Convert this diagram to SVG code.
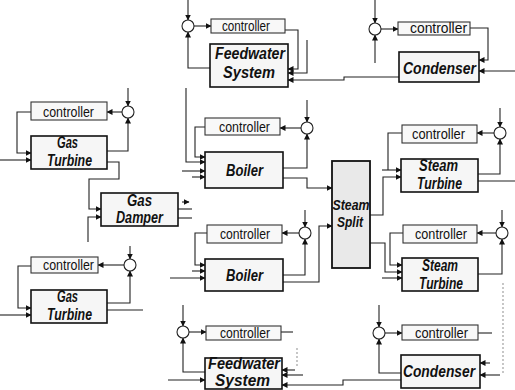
<svg xmlns="http://www.w3.org/2000/svg" width="515" height="390" viewBox="0 0 515 390">
<style>
.bg{fill:#fff}
.blk{fill:#f6f6f6;stroke:#111;stroke-width:1.6}
.split{fill:#e9e9e9;stroke:#111;stroke-width:1.8}
.ctl{fill:#f8f8f8;stroke:#333;stroke-width:1.1}
.sum{fill:#fff;stroke:#222;stroke-width:1.1}
.lbl{font-family:"Liberation Sans",Arial,sans-serif;font-weight:bold;font-style:italic;font-size:16px;fill:#111}
.sp{font-size:15px}
.ct{font-family:"Liberation Sans",Arial,sans-serif;font-size:15px;fill:#111}
.c path{fill:none;stroke:#222;stroke-width:1.1}
.c path.a{marker-end:url(#ah)}
.c path.f{stroke:#999;stroke-dasharray:2 2}
</style>
<defs>
<marker id="ah" markerUnits="userSpaceOnUse" markerWidth="6" markerHeight="6" refX="5.5" refY="3" orient="auto"><path d="M0,0 L6,3 L0,6 z" fill="#111"/></marker>
</defs>
<rect class="bg" width="515" height="390"/>

<g id="connectors" class="c">
<!-- Gas Turbine 1 -->
<path class="a" d="M128,88 V106"/>
<path class="a" d="M122,112 H107"/>
<path class="a" d="M31,112 H17 V153 H31"/>
<path class="a" d="M0,160 H31"/>
<path class="a" d="M107,151 H128 V118"/>
<path class="a" d="M107,162 H119 V179 H89 V209 H101"/>
<!-- Gas Turbine 2 -->
<path class="a" d="M130,246 V259"/>
<path class="a" d="M124,265 H98"/>
<path class="a" d="M31,266 H18 V308 H31"/>
<path class="a" d="M0,315 H31"/>
<path class="a" d="M107,303 H130 V271"/>
<path d="M107,310 H143"/>
<path class="a" d="M88,242 V217 H101"/>
<!-- Gas Damper outputs -->
<path class="a" d="M182,202 H189"/>
<path d="M178,209 H192"/>
<path d="M178,218 H192"/>
<!-- Feedwater top -->
<path class="a" d="M188,0 V20"/>
<path class="a" d="M194,26 H211"/>
<path class="a" d="M285,30 H298 V69 H288"/>
<path class="a" d="M307,40 V73 H288"/>
<path class="a" d="M210,68 H188 V32"/>
<path class="a" d="M399,77 H344 V80 H288"/>
<path class="a" d="M186,88 V162 H205"/>
<!-- Condenser top -->
<path class="a" d="M375,0 V23"/>
<path class="a" d="M381,29 H398"/>
<path class="a" d="M470,28 H488 V60 H479"/>
<path class="a" d="M515,71 H479"/>
<path class="a" d="M375,63 V35"/>
<!-- Boiler 1 -->
<path class="a" d="M307,100 V122"/>
<path class="a" d="M301,128 H280"/>
<path class="a" d="M205,127 H195 V157 H205"/>
<path class="a" d="M182,171 H205"/>
<path class="a" d="M192,177 H205"/>
<path class="a" d="M283,168 H307 V134"/>
<path class="a" d="M283,178 H307 V188 H332"/>
<!-- Steam Split outputs -->
<path class="a" d="M370,215 H383 V177 H401"/>
<path class="a" d="M370,243 H385 V272 H402"/>
<!-- Steam Turbine 1 -->
<path class="a" d="M500,108 V127"/>
<path class="a" d="M494,133 H477"/>
<path d="M402,133 H388 V170"/>
<path class="a" d="M382,170 H401"/>
<path class="a" d="M478,174 H500 V139"/>
<path d="M478,181 H515"/>
<!-- Boiler 2 -->
<path class="a" d="M305,210 V227"/>
<path class="a" d="M299,233 H282"/>
<path class="a" d="M207,233 H195 V265 H205"/>
<path class="a" d="M192,271 H205"/>
<path class="a" d="M170,278 H205"/>
<path class="a" d="M283,275 H305 V239"/>
<path class="a" d="M283,282 H319 V226 H332"/>
<!-- Steam Turbine 2 -->
<path class="a" d="M502,210 V227"/>
<path class="a" d="M496,233 H477"/>
<path class="a" d="M403,233 H390 V265 H402"/>
<path class="a" d="M382,278 H402"/>
<path class="a" d="M478,274 H502 V239"/>
<path class="f" d="M503,283 V373"/>
<!-- Feedwater bottom -->
<path class="a" d="M183,305 V326"/>
<path class="a" d="M189,332 H206"/>
<path d="M281,332 H293"/>
<path class="f" d="M297,348 V367"/>
<path class="a" d="M205,372 H183 V338"/>
<path class="a" d="M168,380 H205"/>
<path class="a" d="M295,370 H282"/>
<path class="a" d="M303,375 H282"/>
<path class="a" d="M401,380 H343 V385 H282"/>
<!-- Condenser bottom -->
<path class="a" d="M379,305 V327"/>
<path class="a" d="M385,333 H402"/>
<path d="M478,333 H492"/>
<path class="a" d="M401,373 H379 V339"/>
<path class="a" d="M490,363 H480"/>
<path class="a" d="M500,375 H480"/>
</g>

<g id="gt1-controller"><rect class="ctl" x="31" y="102" width="76" height="18"/><text class="ct" x="43" y="117" textLength="51" lengthAdjust="spacingAndGlyphs">controller</text></g>
<g id="gt1-sum"><circle class="sum" cx="128" cy="112" r="6"/></g>
<g id="gas-turbine-1"><rect class="blk" x="31" y="136" width="76" height="33"/><text class="lbl" x="57" y="148" textLength="21" lengthAdjust="spacingAndGlyphs">Gas</text><text class="lbl" x="47" y="166" textLength="45" lengthAdjust="spacingAndGlyphs">Turbine</text></g>

<g id="gas-damper"><rect class="blk" x="101" y="193" width="77" height="33"/><text class="lbl" x="127" y="206" textLength="25" lengthAdjust="spacingAndGlyphs">Gas</text><text class="lbl" x="116" y="223" textLength="47" lengthAdjust="spacingAndGlyphs">Damper</text></g>

<g id="gt2-controller"><rect class="ctl" x="31" y="257" width="67" height="16"/><text class="ct" x="43" y="270" textLength="51" lengthAdjust="spacingAndGlyphs">controller</text></g>
<g id="gt2-sum"><circle class="sum" cx="130" cy="265" r="6"/></g>
<g id="gas-turbine-2"><rect class="blk" x="31" y="290" width="76" height="33"/><text class="lbl" x="57" y="302" textLength="21" lengthAdjust="spacingAndGlyphs">Gas</text><text class="lbl" x="47" y="320" textLength="45" lengthAdjust="spacingAndGlyphs">Turbine</text></g>

<g id="fw1-sum"><circle class="sum" cx="188" cy="26" r="6"/></g>
<g id="fw1-controller"><rect class="ctl" x="211" y="19" width="74" height="14"/><text class="ct" x="222" y="31" textLength="48" lengthAdjust="spacingAndGlyphs">controller</text></g>
<g id="feedwater-1"><rect class="blk" x="210" y="44" width="78" height="43"/><text class="lbl" x="215" y="59" textLength="70" lengthAdjust="spacingAndGlyphs">Feedwater</text><text class="lbl" x="223" y="78" textLength="52" lengthAdjust="spacingAndGlyphs">System</text></g>

<g id="cd1-sum"><circle class="sum" cx="375" cy="29" r="6"/></g>
<g id="cd1-controller"><rect class="ctl" x="398" y="22" width="72" height="13"/><text class="ct" x="410" y="33" textLength="57" lengthAdjust="spacingAndGlyphs">controller</text></g>
<g id="condenser-1"><rect class="blk" x="399" y="52" width="80" height="30"/><text class="lbl" x="403" y="74" textLength="73" lengthAdjust="spacingAndGlyphs">Condenser</text></g>

<g id="b1-controller"><rect class="ctl" x="205" y="118" width="75" height="17"/><text class="ct" x="219" y="132" textLength="51" lengthAdjust="spacingAndGlyphs">controller</text></g>
<g id="b1-sum"><circle class="sum" cx="307" cy="128" r="6"/></g>
<g id="boiler-1"><rect class="blk" x="205" y="152" width="78" height="36"/><text class="lbl" x="226" y="176" textLength="37" lengthAdjust="spacingAndGlyphs">Boiler</text></g>

<g id="steam-split"><rect class="split" x="332" y="161" width="38" height="107"/><text class="lbl sp" x="332.5" y="210" textLength="37" lengthAdjust="spacingAndGlyphs">Steam</text><text class="lbl sp" x="337" y="227" textLength="26" lengthAdjust="spacingAndGlyphs">Split</text></g>

<g id="st1-controller"><rect class="ctl" x="402" y="125" width="75" height="18"/><text class="ct" x="412" y="139" textLength="53" lengthAdjust="spacingAndGlyphs">controller</text></g>
<g id="st1-sum"><circle class="sum" cx="500" cy="133" r="6"/></g>
<g id="steam-turbine-1"><rect class="blk" x="401" y="159" width="77" height="33"/><text class="lbl" x="419" y="171" textLength="39" lengthAdjust="spacingAndGlyphs">Steam</text><text class="lbl" x="417" y="189" textLength="45" lengthAdjust="spacingAndGlyphs">Turbine</text></g>

<g id="b2-controller"><rect class="ctl" x="207" y="225" width="75" height="18"/><text class="ct" x="220" y="239" textLength="50" lengthAdjust="spacingAndGlyphs">controller</text></g>
<g id="b2-sum"><circle class="sum" cx="305" cy="233" r="6"/></g>
<g id="boiler-2"><rect class="blk" x="205" y="259" width="78" height="32"/><text class="lbl" x="226" y="281" textLength="37" lengthAdjust="spacingAndGlyphs">Boiler</text></g>

<g id="st2-controller"><rect class="ctl" x="403" y="225" width="74" height="18"/><text class="ct" x="415" y="239" textLength="52" lengthAdjust="spacingAndGlyphs">controller</text></g>
<g id="st2-sum"><circle class="sum" cx="502" cy="233" r="6"/></g>
<g id="steam-turbine-2"><rect class="blk" x="402" y="258" width="76" height="33"/><text class="lbl" x="422" y="271" textLength="36" lengthAdjust="spacingAndGlyphs">Steam</text><text class="lbl" x="419" y="289" textLength="44" lengthAdjust="spacingAndGlyphs">Turbine</text></g>

<g id="fw2-sum"><circle class="sum" cx="183" cy="332" r="6"/></g>
<g id="fw2-controller"><rect class="ctl" x="206" y="326" width="75" height="14"/><text class="ct" x="220" y="338" textLength="50" lengthAdjust="spacingAndGlyphs">controller</text></g>
<g id="feedwater-2"><rect class="blk" x="205" y="358" width="77" height="31"/><text class="lbl" x="208" y="369" textLength="72" lengthAdjust="spacingAndGlyphs">Feedwater</text><text class="lbl" x="215" y="386" textLength="55" lengthAdjust="spacingAndGlyphs">System</text></g>

<g id="cd2-sum"><circle class="sum" cx="379" cy="333" r="6"/></g>
<g id="cd2-controller"><rect class="ctl" x="402" y="325" width="76" height="15"/><text class="ct" x="415" y="338" textLength="53" lengthAdjust="spacingAndGlyphs">controller</text></g>
<g id="condenser-2"><rect class="blk" x="401" y="355" width="79" height="33"/><text class="lbl" x="403" y="377" textLength="72" lengthAdjust="spacingAndGlyphs">Condenser</text></g>
</svg>
